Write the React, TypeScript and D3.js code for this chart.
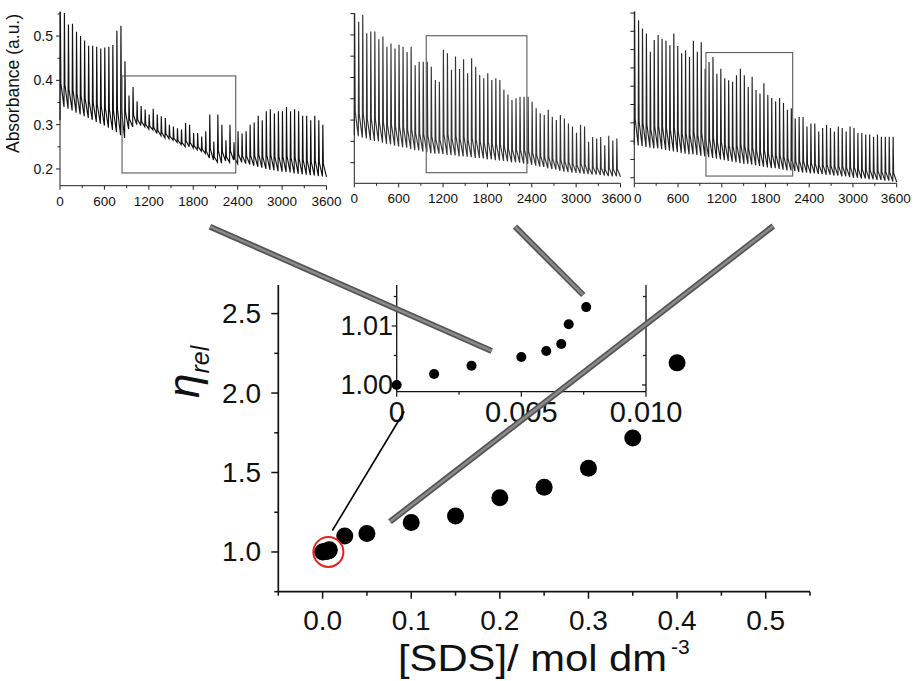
import React from 'react';
import * as d3 from 'd3';

// ---------- data: oscillation traces (absorbance, per cycle) ----------
const TIME_TICKS = [0, 600, 1200, 1800, 2400, 3000, 3600];
const TIME_MINOR = [300, 900, 1500, 2100, 2700, 3300];

const P1_PEAKS = [
  0.555, 0.552, 0.526, 0.528, 0.51, 0.5, 0.49, 0.478, 0.478, 0.476, 0.472, 0.474, 0.476, 0.48, 0.512, 0.523, 0.443,
  0.366, 0.385, 0.353, 0.342, 0.334, 0.323, 0.336, 0.323, 0.319, 0.315, 0.3, 0.296, 0.292, 0.289, 0.304, 0.3, 0.281, 0.281,
  0.273, 0.285, 0.323, 0.262, 0.323, 0.3, 0.265, 0.3, 0.26, 0.285,
  0.28, 0.285, 0.3, 0.305, 0.32, 0.31, 0.33, 0.335, 0.325, 0.33, 0.33, 0.34, 0.33, 0.335, 0.33, 0.32, 0.32, 0.31, 0.32, 0.31, 0.3,
];
const P1_TROUGHS = [
  0.31, 0.34, 0.336, 0.332, 0.327, 0.323, 0.319, 0.315, 0.311, 0.306, 0.302, 0.298, 0.293, 0.288, 0.283, 0.276, 0.27,
  0.29, 0.295, 0.3, 0.298, 0.295, 0.29, 0.288, 0.28, 0.275, 0.27, 0.268, 0.265, 0.26, 0.255, 0.25, 0.25, 0.247, 0.243, 0.24,
  0.235, 0.225, 0.22, 0.215, 0.213, 0.218, 0.215, 0.22, 0.212,
  0.215, 0.212, 0.21, 0.207, 0.205, 0.203, 0.2, 0.198, 0.197, 0.195, 0.194, 0.193, 0.192, 0.19, 0.189, 0.188, 0.187, 0.186, 0.185,
  0.184, 0.183, 0.182,
];

const P2_PEAKS = [
  0.551, 0.531, 0.547, 0.504, 0.508, 0.508, 0.49, 0.496, 0.472, 0.48, 0.468, 0.477, 0.472, 0.46, 0.472, 0.429, 0.437, 0.437,
  0.437, 0.425, 0.394, 0.39, 0.465, 0.457, 0.418, 0.449, 0.42, 0.443, 0.41, 0.445, 0.425, 0.406, 0.398, 0.41, 0.394, 0.398,
  0.394, 0.371, 0.36, 0.347, 0.351, 0.355, 0.355, 0.355, 0.343, 0.328, 0.316, 0.312, 0.324, 0.308, 0.3, 0.312, 0.304, 0.292,
  0.285, 0.27, 0.289, 0.285, 0.249, 0.26, 0.257, 0.26, 0.241, 0.263, 0.252, 0.257,
];
const P2_TROUGHS = [
  0.265, 0.262, 0.259, 0.257, 0.253, 0.251, 0.25, 0.247, 0.244, 0.243, 0.24,
  0.238, 0.236, 0.235, 0.232, 0.23, 0.229, 0.226, 0.224, 0.222,
  0.221, 0.221, 0.22, 0.218, 0.218, 0.217, 0.215, 0.215,
  0.214, 0.213, 0.211, 0.211, 0.21, 0.208, 0.208, 0.206, 0.205,
  0.204, 0.203, 0.201, 0.201, 0.2, 0.198, 0.197, 0.195,
  0.193, 0.191, 0.19, 0.187, 0.185, 0.184, 0.181, 0.179,
  0.178, 0.177, 0.176, 0.175, 0.174, 0.173, 0.172, 0.172, 0.171,
  0.17, 0.169, 0.168, 0.168, 0.167,
];

const P3_PEAKS = [
  0.427, 0.415, 0.404, 0.397, 0.372, 0.388, 0.395, 0.39, 0.387, 0.381, 0.397, 0.38, 0.37, 0.374, 0.365, 0.387, 0.372, 0.385,
  0.349, 0.358, 0.365, 0.342, 0.349, 0.336, 0.333, 0.331, 0.34, 0.349, 0.34, 0.324, 0.338, 0.32, 0.315, 0.329, 0.313, 0.309,
  0.304, 0.309, 0.302, 0.293, 0.295, 0.281, 0.283, 0.283, 0.27, 0.274, 0.274, 0.263, 0.268, 0.272, 0.268, 0.263, 0.27, 0.268,
  0.263, 0.27, 0.268, 0.261, 0.261, 0.259, 0.259, 0.256, 0.259, 0.256, 0.256, 0.256, 0.256,
];
const P3_TROUGHS = [
  0.245, 0.244, 0.243, 0.242, 0.241, 0.24, 0.24, 0.239, 0.238,
  0.237, 0.236, 0.235, 0.234, 0.233, 0.232, 0.232, 0.231,
  0.23, 0.229, 0.228, 0.227, 0.226, 0.225, 0.224, 0.223, 0.222,
  0.221, 0.22, 0.219, 0.219, 0.218, 0.217, 0.216, 0.215,
  0.214, 0.213, 0.213, 0.212, 0.211, 0.21, 0.21, 0.209, 0.208,
  0.207, 0.207, 0.206, 0.206, 0.205, 0.205, 0.204, 0.204,
  0.203, 0.203, 0.202, 0.202, 0.201, 0.2, 0.2, 0.199, 0.199,
  0.198, 0.198, 0.197, 0.197, 0.196, 0.196, 0.195, 0.194,
];

// zoom boxes [t0, t1, a0, a1]
const P1_BOX = [838, 2374, 0.191, 0.41];
const P2_BOX = [973, 2334, 0.1765, 0.498];
const P3_BOX = [983, 2173, 0.2023, 0.371];

const P1_YTICKS = [0.2, 0.3, 0.4, 0.5];
const P1_YMINOR = [0.25, 0.35, 0.45, 0.55];
const P2_YTICKS = [0.2, 0.25, 0.3, 0.35, 0.4, 0.45, 0.5, 0.55];
const P3_YTICKS = [0.2, 0.225, 0.25, 0.275, 0.3, 0.325, 0.35, 0.375, 0.4, 0.425];

// ---------- data: relative viscosity ----------
const INSET_SDS = [0, 0.0015, 0.003, 0.005, 0.006, 0.0066, 0.0069, 0.0076];
const INSET_ETA = [1.0, 1.00186, 1.00327, 1.00475, 1.00576, 1.00695, 1.0103, 1.0132];
const MAIN_SDS = [0.025, 0.05, 0.1, 0.15, 0.2, 0.25, 0.3, 0.35, 0.4];
const MAIN_ETA = [1.101, 1.116, 1.186, 1.226, 1.341, 1.407, 1.527, 1.717, 2.19];

const MAIN_XTICKS = [0, 0.1, 0.2, 0.3, 0.4, 0.5];
const MAIN_XMINOR = [-0.05, 0.05, 0.15, 0.25, 0.35, 0.45, 0.55];
const MAIN_YTICKS = [1.0, 1.5, 2.0, 2.5];
const MAIN_YMINOR = [0.75, 1.25, 1.75, 2.25];
const INSET_XTICKS = [0, 0.005, 0.01];
const INSET_XLABELS = ['0', '0.005', '0.010'];
const INSET_XMINOR = [0.0025, 0.0075];
const INSET_YTICKS = [1.0, 1.01];
const INSET_YMINOR = [1.005, 1.015];

const FONT = 'Liberation Sans, Arial, Helvetica, sans-serif';

type PanelProps = {
  x0: number; x1: number; yB: number; yT: number; dom: [number, number];
  peaks: number[]; troughs: number[]; box: number[];
  yticks: number[]; yminor?: number[]; labels: boolean; stroke: string; k: number;
  firstDx?: number; lastDx?: number;
};

function Panel(p: PanelProps) {
  const x = d3.scaleLinear().domain([0, 3600]).range([p.x0, p.x1]);
  const y = d3.scaleLinear().domain(p.dom).range([p.yB, p.yT]);
  const n = p.peaks.length;
  const P = 3600 / n;
  const pts: [number, number][] = [];
  for (let i = 0; i < n; i++) {
    const t = i * P;
    const nxt = p.troughs[i + 1];
    pts.push([t, p.troughs[i]]);
    pts.push([t + 0.09 * P, p.peaks[i]]);
    pts.push([t + 0.22 * P, nxt + p.k * (p.peaks[i] - nxt)]);
  }
  pts.push([3600, p.troughs[n]]);
  const line = d3.line<[number, number]>().x(d => x(d[0])).y(d => y(d[1]));
  const [b0, b1, a0, a1] = p.box;
  return (
    <g>
      <path d={line(pts) || ''} fill="none" stroke={p.stroke} strokeWidth={1.15} strokeLinejoin="miter" />
      <rect x={x(b0)} y={y(a1)} width={x(b1) - x(b0)} height={y(a0) - y(a1)} fill="none" stroke="#5a5a5a" strokeWidth={1.1} />
      <line x1={p.x0} x2={p.x0} y1={p.yT} y2={p.yB} stroke="#222" strokeWidth={1} />
      <line x1={p.x0} x2={p.x1} y1={p.yB} y2={p.yB} stroke="#222" strokeWidth={1} />
      {p.yticks.map(v => (
        <line key={'yt' + v} x1={p.x0 - 4} x2={p.x0} y1={y(v)} y2={y(v)} stroke="#222" strokeWidth={1} />
      ))}
      {(p.yminor || []).map(v => (
        <line key={'ym' + v} x1={p.x0 - 2.5} x2={p.x0} y1={y(v)} y2={y(v)} stroke="#222" strokeWidth={1} />
      ))}
      {p.labels && p.yticks.map(v => (
        <text key={'yl' + v} x={p.x0 - 7} y={y(v) + 5} textAnchor="end" fontSize={14} fontFamily={FONT} fill="#111">{v.toFixed(1)}</text>
      ))}
      {TIME_TICKS.map(v => (
        <line key={'xt' + v} x1={x(v)} x2={x(v)} y1={p.yB} y2={p.yB + 4} stroke="#222" strokeWidth={1} />
      ))}
      {TIME_MINOR.map(v => (
        <line key={'xm' + v} x1={x(v)} x2={x(v)} y1={p.yB} y2={p.yB + 2.5} stroke="#222" strokeWidth={1} />
      ))}
      {TIME_TICKS.map((v, i) => (
        <text key={'xl' + v} x={x(v) + (i === 0 ? p.firstDx || 0 : i === TIME_TICKS.length - 1 ? p.lastDx || 0 : 0)}
          y={p.yB + 20} textAnchor="middle" fontSize={13.5} fontFamily={FONT} fill="#111">{v}</text>
      ))}
    </g>
  );
}

export default function App() {
  const mx = d3.scaleLinear().domain([-0.05, 0.55]).range([278.3, 810]);
  const my = d3.scaleLinear().domain([0.75, 2.68]).range([591.7, 285]);
  const ix = d3.scaleLinear().domain([0, 0.01]).range([396.7, 646]);
  const iy = d3.scaleLinear().domain([0.99886, 1.01695]).range([391.7, 285]);
  const ax = '#111';

  const grayLines = [
    [210, 226.7, 491.7, 351],
    [515, 226.7, 583.3, 295],
    [773.3, 226, 390, 521.7],
  ];

  return (
    <svg width={916} height={681} style={{ position: 'absolute', left: 0, top: 0, background: '#fff' }}>
      <rect x={0} y={0} width={916} height={681} fill="#fff" />
      {/* top oscillation panels */}
      <Panel x0={60} x1={326.5} yB={185.7} yT={11.7} dom={[0.1622, 0.555]} peaks={P1_PEAKS} troughs={P1_TROUGHS}
        box={P1_BOX} yticks={P1_YTICKS} yminor={P1_YMINOR} labels={true} stroke="#111" k={0.25} />
      <Panel x0={354.3} x1={620.5} yB={183.3} yT={13.3} dom={[0.1516, 0.5507]} peaks={P2_PEAKS} troughs={P2_TROUGHS}
        box={P2_BOX} yticks={P2_YTICKS} labels={false} stroke="#333" k={0.2} lastDx={-4} />
      <Panel x0={634.3} x1={896.7} yB={183.3} yT={11.7} dom={[0.1924, 0.4268]} peaks={P3_PEAKS} troughs={P3_TROUGHS}
        box={P3_BOX} yticks={P3_YTICKS} labels={false} stroke="#222" k={0.2} firstDx={3.5} lastDx={-1} />
      <text transform="translate(19,83.5) rotate(-90)" textAnchor="middle" fontSize={17.5} fontFamily={FONT} fill="#111">Absorbance (a.u.)</text>

      {/* main axes */}
      <line x1={mx(-0.05)} x2={mx(-0.05)} y1={285} y2={my(0.75)} stroke={ax} strokeWidth={1.7} />
      <line x1={mx(-0.05)} x2={mx(0.55)} y1={my(0.75)} y2={my(0.75)} stroke={ax} strokeWidth={1.7} />
      {MAIN_YTICKS.map(v => (
        <g key={'my' + v}>
          <line x1={mx(-0.05) - 7} x2={mx(-0.05)} y1={my(v)} y2={my(v)} stroke={ax} strokeWidth={1.5} />
          <text x={261} y={my(v) + 9.5} textAnchor="end" fontSize={28} fontFamily={FONT} fill="#111">{v.toFixed(1)}</text>
        </g>
      ))}
      {MAIN_YMINOR.map(v => (
        <line key={'mym' + v} x1={mx(-0.05) - 4} x2={mx(-0.05)} y1={my(v)} y2={my(v)} stroke={ax} strokeWidth={1.5} />
      ))}
      {MAIN_XTICKS.map(v => (
        <g key={'mx' + v}>
          <line x1={mx(v)} x2={mx(v)} y1={my(0.75)} y2={my(0.75) + 7} stroke={ax} strokeWidth={1.5} />
          <text x={mx(v)} y={my(0.75) + 38} textAnchor="middle" fontSize={28} fontFamily={FONT} fill="#111">{v.toFixed(1)}</text>
        </g>
      ))}
      {MAIN_XMINOR.map(v => (
        <line key={'mxm' + v} x1={mx(v)} x2={mx(v)} y1={my(0.75)} y2={my(0.75) + 4} stroke={ax} strokeWidth={1.5} />
      ))}
      <text x={398} y={671} fontSize={36} fontFamily={FONT} fill="#111" textLength={269} lengthAdjust="spacingAndGlyphs">[SDS]/ mol dm</text>
      <text x={671} y={654} fontSize={21} fontFamily={FONT} fill="#111">-3</text>
      <text transform="translate(199,398) rotate(-90)" fontFamily={FONT} fontStyle="italic" fill="#111">
        <tspan fontSize={44}>η</tspan>
        <tspan fontSize={25} dy={10}>rel</tspan>
      </text>

      {/* main points */}
      {INSET_SDS.map((v, i) => (
        <circle key={'a' + i} cx={mx(v)} cy={my(INSET_ETA[i])} r={8.5} fill="#000" />
      ))}
      {MAIN_SDS.map((v, i) => (
        <circle key={'b' + i} cx={mx(v)} cy={my(MAIN_ETA[i])} r={8.5} fill="#000" />
      ))}
      <circle cx={mx(0.0065)} cy={my(1.0)} r={15} fill="none" stroke="#e8201c" strokeWidth={2} />

      {/* inset */}
      <line x1={ix(0)} x2={ix(0)} y1={285} y2={iy.range()[0]} stroke={ax} strokeWidth={1.3} />
      <line x1={ix(0.01)} x2={ix(0.01)} y1={285} y2={iy.range()[0]} stroke={ax} strokeWidth={1.3} />
      <line x1={ix(0)} x2={ix(0.01)} y1={iy.range()[0]} y2={iy.range()[0]} stroke={ax} strokeWidth={1.3} />
      {INSET_YTICKS.map(v => (
        <g key={'iy' + v}>
          <line x1={ix(0) - 5} x2={ix(0)} y1={iy(v)} y2={iy(v)} stroke={ax} strokeWidth={1.2} />
          <line x1={ix(0.01) - 4} x2={ix(0.01)} y1={iy(v)} y2={iy(v)} stroke={ax} strokeWidth={1.2} />
          <text x={393} y={iy(v) + 9} textAnchor="end" fontSize={27} fontFamily={FONT} fill="#111">{v.toFixed(2)}</text>
        </g>
      ))}
      {INSET_YMINOR.map(v => (
        <g key={'iym' + v}>
          <line x1={ix(0) - 3} x2={ix(0)} y1={iy(v)} y2={iy(v)} stroke={ax} strokeWidth={1.2} />
          <line x1={ix(0.01) - 3} x2={ix(0.01)} y1={iy(v)} y2={iy(v)} stroke={ax} strokeWidth={1.2} />
        </g>
      ))}
      {INSET_XTICKS.map((v, i) => (
        <g key={'ix' + v}>
          <line x1={ix(v)} x2={ix(v)} y1={iy.range()[0]} y2={iy.range()[0] + 5} stroke={ax} strokeWidth={1.2} />
          <text x={ix(v)} y={iy.range()[0] + 30} textAnchor="middle" fontSize={29} fontFamily={FONT} fill="#111">{INSET_XLABELS[i]}</text>
        </g>
      ))}
      {INSET_XMINOR.map(v => (
        <line key={'ixm' + v} x1={ix(v)} x2={ix(v)} y1={iy.range()[0]} y2={iy.range()[0] + 3} stroke={ax} strokeWidth={1.2} />
      ))}
      {INSET_SDS.map((v, i) => (
        <circle key={'c' + i} cx={ix(v)} cy={iy(INSET_ETA[i])} r={5} fill="#000" />
      ))}

      {/* connectors */}
      <line x1={mx(0.011)} y1={my(1.135)} x2={ix(0.0003)} y2={iy(0.9955)} stroke="#000" strokeWidth={1.6} />
      {grayLines.map((g, i) => (
        <g key={'g' + i}>
          <line x1={g[0]} y1={g[1]} x2={g[2]} y2={g[3]} stroke="#555" strokeWidth={6} />
          <line x1={g[0]} y1={g[1]} x2={g[2]} y2={g[3]} stroke="#8a8a8a" strokeWidth={2.5} />
        </g>
      ))}
    </svg>
  );
}
